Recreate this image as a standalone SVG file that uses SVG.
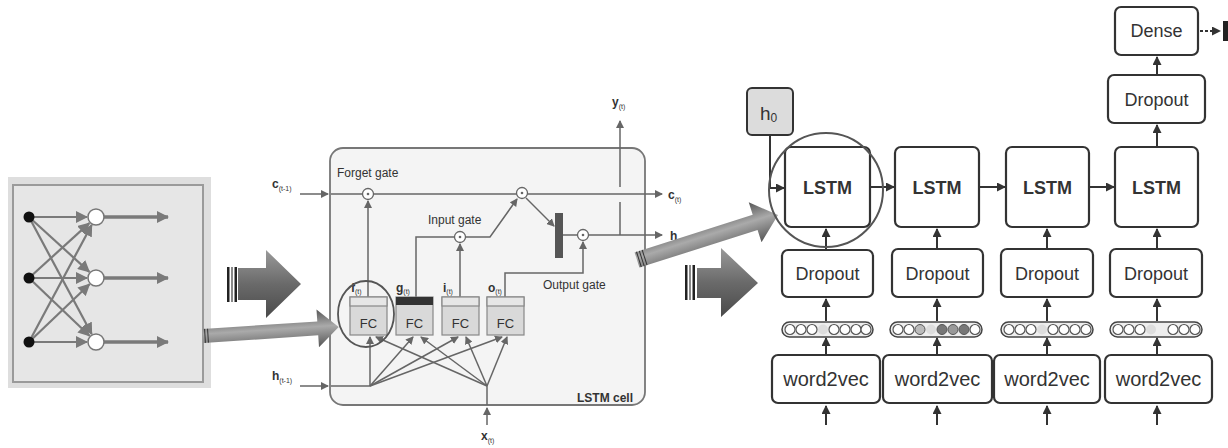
<svg xmlns="http://www.w3.org/2000/svg" width="1228" height="448" viewBox="0 0 1228 448">
<style>
.t{font-family:"Liberation Sans",Arial,sans-serif;fill:#333}
.g{stroke:#666;stroke-width:1.5;fill:none}
.nn{stroke:#7a7a7a;stroke-width:2.2;fill:none}
.bx{fill:#fff;stroke:#333;stroke-width:2.2}
.k{stroke:#333;stroke-width:2;fill:none}
.fc{fill:#d9d9d9;stroke:#888;stroke-width:1.2}
.gate{fill:#fff;stroke:#666;stroke-width:1.3}
.bead{fill:#fff;stroke:#555;stroke-width:1.2}
</style>
<defs>
<marker id="ag" markerWidth="8" markerHeight="8" refX="7" refY="4" orient="auto" markerUnits="userSpaceOnUse"><path d="M0,0 L8,4 L0,8 z" fill="#666"/></marker>
<marker id="an" markerWidth="12" markerHeight="12" refX="11" refY="6" orient="auto" markerUnits="userSpaceOnUse"><path d="M0,0 L12,6 L0,12 z" fill="#7a7a7a"/></marker>
<marker id="ak" markerWidth="9" markerHeight="9" refX="8" refY="4.5" orient="auto" markerUnits="userSpaceOnUse"><path d="M0,0 L9,4.5 L0,9 z" fill="#333"/></marker>
<linearGradient id="bg" x1="0" y1="0" x2="0" y2="1"><stop offset="0" stop-color="#9a9a9a"/><stop offset="0.5" stop-color="#6a6a6a"/><stop offset="1" stop-color="#4a4a4a"/></linearGradient>
<linearGradient id="bg2" x1="0" y1="0" x2="0" y2="1"><stop offset="0" stop-color="#555"/><stop offset="0.45" stop-color="#aaa"/><stop offset="1" stop-color="#555"/></linearGradient>
</defs>

<g id="neural-net">
<rect x="8" y="177" width="203" height="211" fill="#dedede"/>
<rect x="13" y="185" width="190" height="197" fill="#e6e6e6" stroke="#9a9a9a" stroke-width="2"/>
<g class="nn" marker-end="url(#an)">
<line x1="29" y1="217" x2="87" y2="217"/>
<line x1="29" y1="217" x2="89.3" y2="271.9"/>
<line x1="29" y1="217" x2="91.7" y2="334.1"/>
<line x1="29" y1="278" x2="89.3" y2="223.1"/>
<line x1="29" y1="278" x2="87" y2="278"/>
<line x1="29" y1="278" x2="89.5" y2="335.8"/>
<line x1="29" y1="342" x2="91.7" y2="224.9"/>
<line x1="29" y1="342" x2="89.5" y2="284.2"/>
<line x1="29" y1="342" x2="87" y2="342"/>
</g>
<g stroke="#7a7a7a" stroke-width="3.5" marker-end="url(#an)">
<line x1="104" y1="217" x2="168" y2="217"/>
<line x1="104" y1="278" x2="168" y2="278"/>
<line x1="104" y1="342" x2="168" y2="342"/>
</g>
<circle cx="29" cy="217" r="5.5" fill="#111"/>
<circle cx="29" cy="278" r="5.5" fill="#111"/>
<circle cx="29" cy="342" r="5.5" fill="#111"/>
<circle cx="96" cy="217" r="8" fill="#fff" stroke="#777" stroke-width="1.5"/>
<circle cx="96" cy="278" r="8" fill="#fff" stroke="#777" stroke-width="1.5"/>
<circle cx="96" cy="342" r="8" fill="#fff" stroke="#777" stroke-width="1.5"/>
</g>

<g id="block-arrow-1">
<rect x="227" y="267" width="2.5" height="35" fill="#222"/>
<rect x="231" y="267" width="2" height="35" fill="#888"/>
<rect x="234.5" y="267" width="2.5" height="35" fill="#222"/>
<path d="M238,268 L266,268 L266,250 L301,284 L266,318 L266,300 L238,300 z" fill="url(#bg)"/>
</g>

<g id="lstm-cell">
<rect x="330" y="148" width="315" height="257" rx="13" fill="#f4f4f4" stroke="#777" stroke-width="1.8"/>
<text class="t" x="337" y="177" font-size="12">Forget gate</text>
<text class="t" x="428" y="224" font-size="12">Input gate</text>
<text class="t" x="543" y="289" font-size="12">Output gate</text>
<text class="t" x="577" y="402" font-size="12" font-weight="bold" fill="#222">LSTM cell</text>
<g class="g">
<line x1="300" y1="194" x2="328" y2="194" marker-end="url(#ag)"/>
<line x1="331" y1="194" x2="662" y2="194" marker-end="url(#ag)"/>
<line x1="368" y1="298" x2="368" y2="201" marker-end="url(#ag)"/>
<polyline points="416,297 416,237 455,237"/>
<line x1="460" y1="297" x2="460" y2="244" marker-end="url(#ag)"/>
<polyline points="465,237 490,237 517,199" marker-end="url(#ag)"/>
<line x1="526" y1="198" x2="554" y2="226" marker-end="url(#ag)"/>
<line x1="563" y1="235" x2="578" y2="235"/>
<polyline points="505,297 505,273 583,273 583,242" marker-end="url(#ag)"/>
<line x1="588" y1="235" x2="662" y2="235" marker-end="url(#ag)"/>
<line x1="620" y1="235" x2="620" y2="202"/>
<line x1="620" y1="187" x2="620" y2="121" marker-end="url(#ag)"/>
<line x1="300" y1="386" x2="328" y2="386" marker-end="url(#ag)"/>
<line x1="331" y1="386" x2="370" y2="386"/>
<line x1="370" y1="386" x2="370" y2="337" marker-end="url(#ag)"/>
<line x1="370" y1="386" x2="413" y2="337" marker-end="url(#ag)"/>
<line x1="370" y1="386" x2="458" y2="337" marker-end="url(#ag)"/>
<line x1="370" y1="386" x2="502" y2="337" marker-end="url(#ag)"/>
<line x1="487" y1="386" x2="376" y2="337" marker-end="url(#ag)"/>
<line x1="487" y1="386" x2="421" y2="337" marker-end="url(#ag)"/>
<line x1="487" y1="386" x2="466" y2="337" marker-end="url(#ag)"/>
<line x1="487" y1="386" x2="507" y2="337" marker-end="url(#ag)"/>
<line x1="487" y1="425" x2="487" y2="408" marker-end="url(#ag)"/>
<line x1="487" y1="405" x2="487" y2="386"/>
</g>
<rect x="555" y="213" width="8" height="45" fill="#555"/>
<g>
<circle class="gate" cx="368" cy="194" r="5.5"/><circle cx="368" cy="194" r="1.3" fill="#666"/>
<circle class="gate" cx="522" cy="193" r="5.5"/><circle cx="522" cy="193" r="1.3" fill="#666"/>
<circle class="gate" cx="460" cy="237" r="5.5"/><circle cx="460" cy="237" r="1.3" fill="#666"/>
<circle class="gate" cx="583" cy="235" r="5.5"/><circle cx="583" cy="235" r="1.3" fill="#666"/>
</g>
<g id="fc-f"><rect class="fc" x="350" y="297" width="37" height="38"/><rect x="350" y="297" width="37" height="9" fill="#e6e6e6" stroke="#888" stroke-width="1.2"/><text class="t" x="368.5" y="328" font-size="13" text-anchor="middle">FC</text></g>
<g id="fc-g"><rect class="fc" x="396" y="297" width="37" height="38"/><rect x="396" y="297" width="37" height="8" fill="#333"/><text class="t" x="414.5" y="328" font-size="13" text-anchor="middle">FC</text></g>
<g id="fc-i"><rect class="fc" x="442" y="297" width="37" height="38"/><rect x="442" y="297" width="37" height="9" fill="#e6e6e6" stroke="#888" stroke-width="1.2"/><text class="t" x="460.5" y="328" font-size="13" text-anchor="middle">FC</text></g>
<g id="fc-o"><rect class="fc" x="487" y="297" width="37" height="38"/><rect x="487" y="297" width="37" height="9" fill="#e6e6e6" stroke="#888" stroke-width="1.2"/><text class="t" x="505.5" y="328" font-size="13" text-anchor="middle">FC</text></g>
<text class="t" x="351" y="292" font-size="12" font-weight="bold" fill="#222">f<tspan font-size="7" font-weight="normal" dy="2">(t)</tspan></text>
<text class="t" x="396" y="292" font-size="12" font-weight="bold" fill="#222">g<tspan font-size="7" font-weight="normal" dy="2">(t)</tspan></text>
<text class="t" x="443" y="292" font-size="12" font-weight="bold" fill="#222">i<tspan font-size="7" font-weight="normal" dy="2">(t)</tspan></text>
<text class="t" x="488" y="292" font-size="12" font-weight="bold" fill="#222">o<tspan font-size="7" font-weight="normal" dy="2">(t)</tspan></text>
<ellipse cx="366" cy="314" rx="28" ry="33" fill="none" stroke="#555" stroke-width="1.8"/>
<text class="t" x="272" y="188" font-size="12" font-weight="bold" fill="#222">c<tspan font-size="7" font-weight="normal" dy="3">(t-1)</tspan></text>
<text class="t" x="272" y="380" font-size="12" font-weight="bold" fill="#222">h<tspan font-size="7" font-weight="normal" dy="3">(t-1)</tspan></text>
<text class="t" x="481" y="440" font-size="12" font-weight="bold" fill="#222">x<tspan font-size="7" font-weight="normal" dy="3">(t)</tspan></text>
<text class="t" x="612" y="106" font-size="12" font-weight="bold" fill="#222">y<tspan font-size="7" font-weight="normal" dy="3">(t)</tspan></text>
<text class="t" x="668" y="199" font-size="12" font-weight="bold" fill="#222">c<tspan font-size="7" font-weight="normal" dy="3">(t)</tspan></text>
<text class="t" x="670" y="240" font-size="12" font-weight="bold" fill="#222">h</text>
</g>

<g id="long-arrow-1">
<path transform="translate(203,336) rotate(-3.8)" d="M0,-7 L115,-7 L115,-19 L136,0 L115,19 L115,7 L0,7 z" fill="url(#bg2)"/>
<g transform="translate(203,336) rotate(-3.8)" stroke="#333" stroke-width="1"><line x1="2" y1="-7" x2="2" y2="7"/><line x1="5" y1="-7" x2="5" y2="7"/></g>
</g>

<g id="long-arrow-2">
<path transform="translate(637,260) rotate(-17.7)" d="M0,-8 L124,-8 L124,-21 L148,0 L124,21 L124,8 L0,8 z" fill="url(#bg2)"/>
<g transform="translate(637,260) rotate(-17.7)" stroke="#333" stroke-width="1"><line x1="2" y1="-8" x2="2" y2="8"/><line x1="5" y1="-8" x2="5" y2="8"/><line x1="8" y1="-8" x2="8" y2="8"/></g>
</g>

<g id="block-arrow-2">
<rect x="685" y="265" width="2.5" height="35" fill="#222"/>
<rect x="689" y="265" width="2" height="35" fill="#888"/>
<rect x="692.5" y="265" width="2.5" height="35" fill="#222"/>
<path d="M697,268 L721,268 L721,248 L758,283 L721,317 L721,298 L697,298 z" fill="url(#bg)"/>
</g>

<g id="connectors">
<g class="k" marker-end="url(#ak)">
<polyline points="770,135 770,188 784,188"/>
<line x1="871" y1="187" x2="894" y2="187"/>
<line x1="979" y1="187" x2="1005" y2="187"/>
<line x1="1089" y1="187" x2="1114" y2="187"/>
<line x1="826" y1="249" x2="826" y2="229"/>
<line x1="937" y1="248" x2="937" y2="229"/>
<line x1="1047" y1="248" x2="1047" y2="229"/>
<line x1="1157" y1="248" x2="1157" y2="229"/>
<line x1="826" y1="321" x2="826" y2="299"/>
<line x1="937" y1="321" x2="937" y2="299"/>
<line x1="1047" y1="321" x2="1047" y2="299"/>
<line x1="1157" y1="321" x2="1157" y2="299"/>
<line x1="826" y1="355" x2="826" y2="338"/>
<line x1="937" y1="355" x2="937" y2="338"/>
<line x1="1047" y1="355" x2="1047" y2="338"/>
<line x1="1157" y1="355" x2="1157" y2="338"/>
<line x1="826" y1="425" x2="826" y2="406"/>
<line x1="937" y1="425" x2="937" y2="406"/>
<line x1="1047" y1="425" x2="1047" y2="406"/>
<line x1="1157" y1="425" x2="1157" y2="406"/>
<line x1="1157" y1="147" x2="1157" y2="125"/>
<line x1="1157" y1="75" x2="1157" y2="57"/>
</g>
<line x1="1200" y1="31" x2="1220" y2="31" stroke="#333" stroke-width="2" stroke-dasharray="3,2" marker-end="url(#ak)"/>
<rect x="1223" y="21" width="5" height="20" fill="#222"/>
</g>

<g id="h0"><rect x="747" y="88" width="46" height="47" rx="5" fill="#dcdcdc" stroke="#333" stroke-width="2"/><text class="t" x="760" y="120" font-size="19" fill="#222">h<tspan font-size="12" dy="2">0</tspan></text></g>

<g id="lstm-1"><rect class="bx" x="785" y="147" width="85" height="80" rx="6"/><text class="t" x="827.5" y="194" font-size="18" font-weight="bold" text-anchor="middle" fill="#222">LSTM</text></g>
<g id="lstm-2"><rect class="bx" x="895" y="147" width="84" height="80" rx="6"/><text class="t" x="937" y="194" font-size="18" font-weight="bold" text-anchor="middle" fill="#222">LSTM</text></g>
<g id="lstm-3"><rect class="bx" x="1006" y="147" width="83" height="80" rx="6"/><text class="t" x="1047.5" y="194" font-size="18" font-weight="bold" text-anchor="middle" fill="#222">LSTM</text></g>
<g id="lstm-4"><rect class="bx" x="1115" y="147" width="83" height="80" rx="6"/><text class="t" x="1156.5" y="194" font-size="18" font-weight="bold" text-anchor="middle" fill="#222">LSTM</text></g>
<circle cx="826" cy="190" r="57" fill="none" stroke="#555" stroke-width="2"/>

<g id="dropout-1"><rect class="bx" x="782" y="250" width="91" height="47" rx="6"/><text class="t" x="827.5" y="280" font-size="18" text-anchor="middle" fill="#222">Dropout</text></g>
<g id="dropout-2"><rect class="bx" x="892" y="249" width="91" height="48" rx="6"/><text class="t" x="937.5" y="280" font-size="18" text-anchor="middle" fill="#222">Dropout</text></g>
<g id="dropout-3"><rect class="bx" x="1001" y="249" width="92" height="48" rx="6"/><text class="t" x="1047" y="280" font-size="18" text-anchor="middle" fill="#222">Dropout</text></g>
<g id="dropout-4"><rect class="bx" x="1110" y="249" width="92" height="48" rx="6"/><text class="t" x="1156" y="280" font-size="18" text-anchor="middle" fill="#222">Dropout</text></g>
<g id="dropout-top"><rect class="bx" x="1108" y="75" width="97" height="48" rx="6"/><text class="t" x="1156.5" y="106" font-size="18" text-anchor="middle" fill="#222">Dropout</text></g>
<g id="dense"><rect class="bx" x="1115" y="7" width="83" height="48" rx="6"/><text class="t" x="1156.5" y="37" font-size="18" text-anchor="middle" fill="#222">Dense</text></g>

<g id="vec-1"><rect x="782" y="322" width="91" height="15" rx="7.5" fill="#eee" stroke="#444" stroke-width="1.5"/>
<circle class="bead" cx="790" cy="329.5" r="5"/><circle class="bead" cx="801" cy="329.5" r="5"/><circle class="bead" cx="812" cy="329.5" r="5"/><circle cx="823" cy="329.5" r="5" fill="#ddd"/><circle class="bead" cx="834" cy="329.5" r="5"/><circle class="bead" cx="845" cy="329.5" r="5"/><circle class="bead" cx="856" cy="329.5" r="5"/><circle class="bead" cx="866" cy="329.5" r="5"/></g>
<g id="vec-2"><rect x="890" y="322" width="92" height="15" rx="7.5" fill="#eee" stroke="#444" stroke-width="1.5"/>
<circle class="bead" cx="898" cy="329.5" r="5"/><circle class="bead" cx="909" cy="329.5" r="5"/><circle cx="920" cy="329.5" r="5" fill="#bbb" stroke="#555"/><circle cx="931" cy="329.5" r="5" fill="#ddd"/><circle cx="942" cy="329.5" r="5" fill="#777" stroke="#555"/><circle cx="953" cy="329.5" r="5" fill="#999" stroke="#555"/><circle cx="964" cy="329.5" r="5" fill="#777" stroke="#555"/><circle class="bead" cx="975" cy="329.5" r="5"/></g>
<g id="vec-3"><rect x="1001" y="322" width="92" height="15" rx="7.5" fill="#eee" stroke="#444" stroke-width="1.5"/>
<circle class="bead" cx="1009" cy="329.5" r="5"/><circle class="bead" cx="1020" cy="329.5" r="5"/><circle class="bead" cx="1031" cy="329.5" r="5"/><circle cx="1042" cy="329.5" r="5" fill="#ddd"/><circle class="bead" cx="1053" cy="329.5" r="5"/><circle class="bead" cx="1064" cy="329.5" r="5"/><circle class="bead" cx="1075" cy="329.5" r="5"/><circle class="bead" cx="1086" cy="329.5" r="5"/></g>
<g id="vec-4"><rect x="1110" y="322" width="92" height="15" rx="7.5" fill="#eee" stroke="#444" stroke-width="1.5"/>
<circle class="bead" cx="1118" cy="329.5" r="5"/><circle class="bead" cx="1129" cy="329.5" r="5"/><circle class="bead" cx="1140" cy="329.5" r="5"/><circle cx="1151" cy="329.5" r="5" fill="#ddd"/><circle cx="1162" cy="329.5" r="5" fill="#eee"/><circle class="bead" cx="1173" cy="329.5" r="5"/><circle class="bead" cx="1184" cy="329.5" r="5"/><circle class="bead" cx="1195" cy="329.5" r="5"/></g>

<g id="w2v-1"><rect class="bx" x="772" y="355" width="108" height="48" rx="6"/><text class="t" x="826" y="386" font-size="20" text-anchor="middle" fill="#222">word2vec</text></g>
<g id="w2v-2"><rect class="bx" x="883" y="355" width="109" height="48" rx="6"/><text class="t" x="937.5" y="386" font-size="20" text-anchor="middle" fill="#222">word2vec</text></g>
<g id="w2v-3"><rect class="bx" x="994" y="355" width="106" height="48" rx="6"/><text class="t" x="1047" y="386" font-size="20" text-anchor="middle" fill="#222">word2vec</text></g>
<g id="w2v-4"><rect class="bx" x="1105" y="355" width="107" height="48" rx="6"/><text class="t" x="1158.5" y="386" font-size="20" text-anchor="middle" fill="#222">word2vec</text></g>
</svg>
